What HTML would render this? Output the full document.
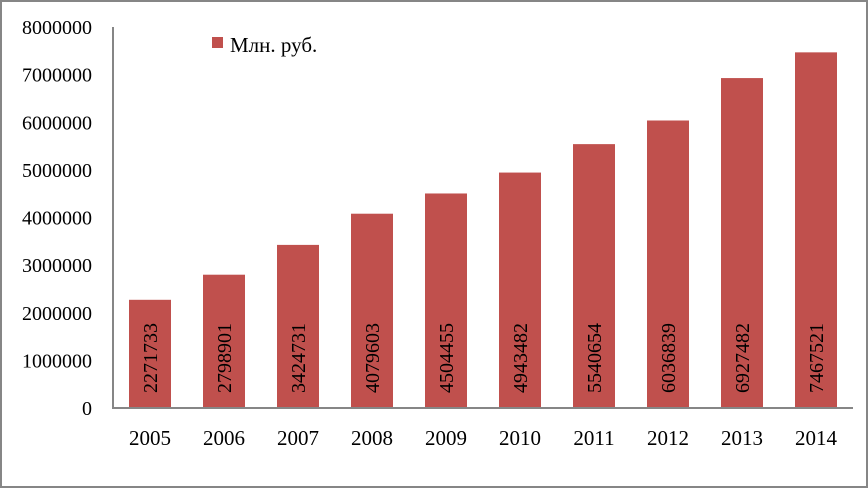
<!DOCTYPE html>
<html><head><meta charset="utf-8"><style>
html,body{margin:0;padding:0;background:#fff}
svg{display:block;font-family:"Liberation Serif",serif}
</style></head><body>
<svg width="868" height="488">
<rect x="1" y="1" width="866" height="486" fill="#fff" stroke="#868686" stroke-width="2"/>
<g id="g"></g>
<rect x="212" y="37" width="11" height="11" fill="#c0504d"/>
<text x="230" y="52" font-size="21">Млн. руб.</text>
</svg>
<script>
const categories=["2005","2006","2007","2008","2009","2010","2011","2012","2013","2014"];
const values=[2271733,2798901,3424731,4079603,4504455,4943482,5540654,6036839,6927482,7467521];
const ticks=[0,1000000,2000000,3000000,4000000,5000000,6000000,7000000,8000000];
const NS="http://www.w3.org/2000/svg",g=document.getElementById('g');
const x0=113,x1=853,yb=408,yt=27,ymax=8000000;
const y=v=>yb-(v/ymax)*(yb-yt);
const step=(x1-x0)/categories.length;
const xc=i=>x0+step*(i+0.5);
function mk(t,a){const e=document.createElementNS(NS,t);for(const k in a)e.setAttribute(k,a[k]);g.appendChild(e);return e;}
ticks.forEach(v=>{
 const t=mk('text',{x:92,y:y(v)+7,'font-size':20,'text-anchor':'end'});
 
 
 t.textContent=v;
});
values.forEach((v,i)=>{
 const r=mk('rect',{x:xc(i)-21,y:y(v),width:42,height:yb-y(v),fill:'#c0504d'});
 
 
 const t=mk('text',{transform:`translate(${xc(i)+7},${yb-15}) rotate(-90)`,'font-size':20});
 
 
 t.textContent=v;
 const c=mk('text',{x:xc(i),y:445,'font-size':21,'text-anchor':'middle'});
 
 
 c.textContent=categories[i];
});
const ax=mk('path',{d:`M${x0} ${yt}V${yb}H${x1}`,fill:'none',stroke:'#868686','stroke-width':2});


</script>
</body></html>
